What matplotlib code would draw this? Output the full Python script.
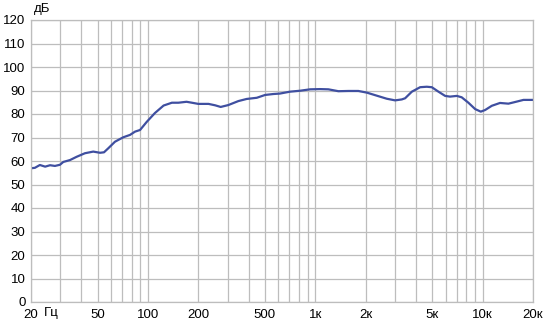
import matplotlib
matplotlib.use("Agg")
import matplotlib.pyplot as plt
from matplotlib.ticker import FixedLocator, NullFormatter

plt.rcParams['font.family'] = ['Liberation Sans', 'DejaVu Sans']

freq = [20, 21.1, 22.6, 24.3, 26, 27.8, 29.8, 31.2, 34.2, 37.5, 42, 47.1, 51.7, 54.6,
        57.9, 63.5, 71.2, 78.1, 83.7, 89.7, 98.2, 110, 124, 139, 152, 170, 183, 200,
        230, 252, 272, 302, 347, 389, 447, 501, 561, 615, 706, 811, 931, 1067, 1197,
        1374, 1577, 1808, 2032, 2330, 2673, 3000, 3288, 3443, 3776, 4231, 4636, 4970,
        5445, 5970, 6383, 7012, 7500, 8222, 9020, 9750, 10350, 11350, 12700, 14260,
        15630, 17540, 20000]
spl = [56.9, 57.1, 58.3, 57.6, 58.2, 57.9, 58.4, 59.6, 60.4, 61.8, 63.3, 64.0, 63.5, 63.7,
       65.4, 68.2, 70.1, 71.1, 72.5, 73.2, 76.6, 80.4, 83.6, 84.8, 84.8, 85.2, 84.8, 84.3,
       84.3, 83.7, 83.0, 83.8, 85.5, 86.4, 86.9, 88.1, 88.5, 88.7, 89.5, 89.9, 90.5, 90.6,
       90.5, 89.7, 89.8, 89.8, 89.1, 87.8, 86.5, 85.8, 86.2, 86.7, 89.5, 91.4, 91.6, 91.4,
       89.5, 87.7, 87.4, 87.7, 87.1, 84.8, 82.1, 81.0, 81.7, 83.5, 84.7, 84.4, 85.1,
       86.0, 86.0]

major_ticks = [20, 50, 100, 200, 500, 1000, 2000, 5000, 10000, 20000]
major_labels = ['20', '50', '100', '200', '500', '1к', '2к', '5к', '10к', '20к']
grid_freqs = [20, 30, 40, 50, 60, 70, 80, 90, 100, 200, 300, 400, 500, 600, 700, 800, 900,
              1000, 2000, 3000, 4000, 5000, 6000, 7000, 8000, 9000, 10000, 20000]
y_ticks = list(range(0, 121, 10))

fig = plt.figure(figsize=(5.44, 3.23), dpi=100)
ax = fig.add_axes([31/544, 1 - 302/323, (533 - 31)/544, (302 - 20)/323])

gc = '#bdbdbd'
ax.set_xscale('log')
ax.set_xlim(20, 20000)
ax.set_ylim(0, 120)
ax.xaxis.set_major_locator(FixedLocator(major_ticks))
ax.xaxis.set_minor_locator(FixedLocator(grid_freqs))
ax.xaxis.set_minor_formatter(NullFormatter())
ax.set_xticks(major_ticks)
ax.set_xticklabels(major_labels)
ax.set_yticks(y_ticks)
ax.grid(True, which='both', axis='x', color=gc, linewidth=0.9)
ax.grid(True, which='major', axis='y', color=gc, linewidth=0.9)
ax.tick_params(which='both', length=0, labelsize=9.5, colors='black')
ax.tick_params(axis='x', pad=5)
ax.tick_params(axis='y', pad=4)
for s in ax.spines.values():
    s.set_color(gc)
    s.set_linewidth(0.9)

ax.plot(freq, spl, color='#3f4fa0', linewidth=1.6, solid_capstyle='round',
        solid_joinstyle='round')

fig.text(34/544, 1 - 9/323, 'дБ', fontsize=9.5, ha='left', va='center')
fig.text(51/544, 1 - 313/323, 'Гц', fontsize=9.5, ha='center', va='center')

fig.savefig('out.png', dpi=100)
